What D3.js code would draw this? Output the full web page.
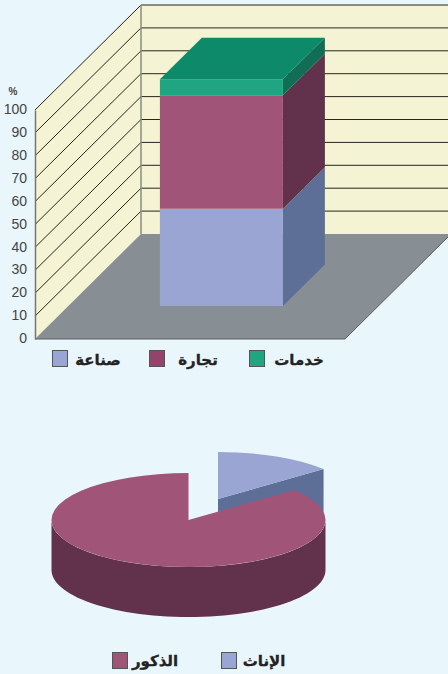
<!DOCTYPE html>
<html lang="ar"><head><meta charset="utf-8">
<script src="https://cdnjs.cloudflare.com/ajax/libs/d3/7.8.5/d3.min.js"></script>
<style>html,body{margin:0;padding:0;background:#e9f6fc}svg{display:block}</style></head>
<body><svg id="c" width="448" height="674"></svg>
<script>
const sectors = ["صناعة","تجارة","خدمات"];
const sectorValues = [42.5,49.5,7];
const ticks = [0,10,20,30,40,50,60,70,80,90,100];
const genders = ["الذكور","الإناث"];
const genderValues = [86,14];
const barFront = ["#9aa5d3","#a05578","#1fa582"];
const barSide = ["#5d6f97","#62324d","#116d53"];
const barTop = "#0d8a69";
const svg = d3.select("#c");
const line = d3.line();

/* ---------- 3D stacked bar ---------- */
const y = d3.scaleLinear().domain([0,100]).range([339,110]);
const x = d3.scaleLinear().domain([0,1]).range([35,345]);
const depthX = d3.scaleLinear().domain([0,1]).range([0,106]);
const depthY = d3.scaleLinear().domain([0,1]).range([0,-105]);
const band = d3.scaleBand().domain(["bar"]).range([35,345]).paddingInner(0).paddingOuter(0.76).align(0.49);
const P = (px,v,d)=>[px+depthX(d), y(v)+depthY(d)];
const X0 = x(0), X1 = x(1), XR = X1;

// back wall
svg.append("path").attr("d",line([P(X0,0,1),P(X0,100,1),P(XR,100,1),P(XR,0,1)])+"Z").attr("fill","#f4f3d3");
// left wall
svg.append("path").attr("d",line([P(X0,0,0),P(X0,100,0),P(X0,100,1),P(X0,0,1)])+"Z").attr("fill","#f4f3d3");
// floor
svg.append("path").attr("d",line([P(X0,0,0),P(X1,0,0),P(X1,0,1),P(X0,0,1)])+"Z").attr("fill","#878e94");
// grid
ticks.filter(t=>t>0).forEach(t=>{
  svg.append("path").attr("d",line([P(X0,t,0),P(X0,t,1),P(XR,t,1)])).attr("fill","none").attr("stroke","#26261f").attr("stroke-width",1);
});
svg.append("path").attr("d",line([P(X0,0,1),P(X0,100,1)])).attr("stroke","#8d8d80").attr("stroke-width",1.5).attr("fill","none");
svg.append("path").attr("d",line([P(X0,0,0),P(X1,0,0),P(X1,0,1)])).attr("stroke","#5a5f62").attr("stroke-width",1).attr("fill","none");

// axis
const axis = d3.axisLeft(y).tickValues(ticks).tickSize(0).tickPadding(8);
const gA = svg.append("g").attr("transform",`translate(${X0},0)`).call(axis);
gA.select(".domain").attr("stroke","#77776c").attr("stroke-width",1.5);
gA.selectAll("text").attr("font-family","'Liberation Sans Narrow','Liberation Sans',sans-serif").attr("font-size",14).attr("fill","#444").attr("dy","0.26em");
svg.append("text").text("%").attr("x",13).attr("y",95).attr("text-anchor","middle").attr("font-family","'Liberation Sans Narrow','Liberation Sans',sans-serif").attr("font-size",10).attr("font-weight","bold").attr("fill","#444");

// bar
const f0 = 0.314, f1 = 0.71;
const bx0 = band("bar"), bx1 = bx0 + band.bandwidth();
const stack = d3.cumsum(sectorValues);
sectorValues.forEach((v,i)=>{
  const a = i? stack[i-1]:0, b = stack[i];
  svg.append("path").attr("d",line([P(bx1,a,f0),P(bx1,b,f0),P(bx1,b,f1),P(bx1,a,f1)])+"Z").attr("fill",barSide[i]);
  svg.append("path").attr("d",line([P(bx0,a,f0),P(bx1,a,f0),P(bx1,b,f0),P(bx0,b,f0)])+"Z").attr("fill",barFront[i]);
});
const tot = stack[stack.length-1];
svg.append("path").attr("d",line([P(bx0,tot,f0),P(bx1,tot,f0),P(bx1,tot,f1),P(bx0,tot,f1)])+"Z").attr("fill",barTop);

/* ---------- legends ---------- */
function legend(names,colors,sx,tx,sy,sh,ty){
  names.forEach((n,i)=>{
    svg.append("rect").attr("x",sx[i]+.5).attr("y",sy+.5).attr("width",15).attr("height",sh).attr("fill",colors[i]).attr("stroke","#555").attr("stroke-width",1);
    svg.append("text").text(n).attr("x",tx[i]).attr("y",ty).attr("text-anchor","middle").attr("direction","rtl")
      .attr("font-family","'DejaVu Sans',sans-serif").attr("font-weight","bold").attr("font-size",15).attr("fill","#222").attr("stroke","#222").attr("stroke-width",0.3);
  });
}
legend(sectors,["#9aa5d3","#94446c","#1fa582"],[52,149,249],[98,198,299],350,16,365);
legend(genders,["#a05578","#9aa5d3"],[112,221],[155,264],652,16,666);

/* ---------- 3D pie ---------- */
const rx = 137, ry = 47, h = 50, cx = 188.5, cy = 520;
const off = [29.5,-21];
const pie = d3.pie().sort(null).startAngle(-2*Math.PI*genderValues[0]/100).endAngle(2*Math.PI*genderValues[1]/100);
const [male,female] = pie(genderValues);
const arc = d3.arc().innerRadius(0).outerRadius(rx);
const pt = (a,ox=0,oy=0,dz=0)=>[cx+ox+rx*Math.sin(a), cy+oy-ry*Math.cos(a)+dz];

// female: cut face then top
const fa = female.endAngle;
const fcx = cx+off[0], fcy = cy+off[1];
svg.append("path").attr("d",line([[fcx,fcy],pt(fa,off[0],off[1]),pt(fa,off[0],off[1],h),[fcx,fcy+h]])+"Z").attr("fill","#5d6f97");
svg.append("path").attr("d",arc(female)).attr("transform",`translate(${fcx},${fcy}) scale(1,${ry/rx})`).attr("fill","#9aa5d3");

// male: side wall then top
const sideAngles = d3.range(90,271,3).map(d=>d*Math.PI/180);
const area = d3.area().x(a=>pt(a)[0]).y0(a=>pt(a)[1]).y1(a=>pt(a,0,0,h)[1]);
svg.append("path").attr("d",area(sideAngles)).attr("fill","#62324d");
svg.append("path").attr("d",arc(male)).attr("transform",`translate(${cx},${cy}) scale(1,${ry/rx})`).attr("fill","#a05578");
</script></body></html>
